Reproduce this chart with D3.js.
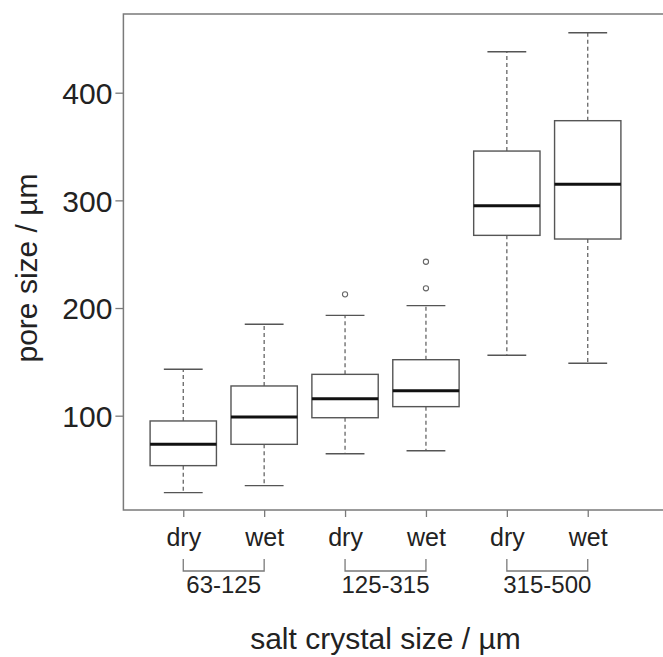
<!DOCTYPE html>
<html>
<head>
<meta charset="utf-8">
<script src="https://cdn.jsdelivr.net/npm/d3@7"></script>
<style>
  html, body { margin: 0; padding: 0; background: #fff; }
  svg { display: block; }
  text { font-family: "Liberation Sans", Arial, sans-serif; fill: #222; }
</style>
</head>
<body>
<svg id="chart" width="663" height="657"></svg>
<script>
// ---- data ----
const treatments = ["dry", "wet", "dry", "wet", "dry", "wet"];
const groups = ["63-125", "125-315", "315-500"];
const whiskerLow  = [28.5, 35.0, 64.7, 67.5, 156.1, 148.7];
const q1          = [53.6, 73.4, 98.1, 108.4, 267.5, 264.1];
const median      = [73.4, 98.8, 115.8, 123.2, 295.0, 314.9];
const q3          = [95.1, 127.6, 138.4, 152.0, 345.8, 374.0];
const whiskerHigh = [143.1, 184.9, 193.2, 202.2, 438.1, 455.7];
const outliers    = [[], [], [212.7], [218.3, 243.0], [], []];
const yTicks = [100, 200, 300, 400];
const yTitle = "pore size / µm";
const xTitle = "salt crystal size / µm";

// ---- layout ----
const svg = d3.select("#chart");
const plot = { left: 123.4, top: 14, bottom: 510 };

const x = d3.scaleLinear().domain([0.26, 6.74]).range([plot.left, 647.6]);
const y = d3.scaleLinear().domain([12.4, 473.1]).range([plot.bottom, plot.top]);

const boxHalf = 0.41;
const capHalf = 0.24;

// frame (right edge lies outside the picture)
svg.append("rect")
  .attr("x", plot.left).attr("y", plot.top)
  .attr("width", 700 - plot.left).attr("height", plot.bottom - plot.top)
  .attr("fill", "none").attr("stroke", "#7a7a7a").attr("stroke-width", 1.5);

// y axis
const yAxis = svg.append("g")
  .attr("transform", `translate(${plot.left},0)`)
  .call(d3.axisLeft(y).tickValues(yTicks).tickSize(8).tickSizeOuter(0).tickPadding(3));
yAxis.select(".domain").remove();
yAxis.selectAll(".tick line").attr("stroke", "#7a7a7a").attr("stroke-width", 1.3);
yAxis.selectAll(".tick text")
  .style("font-family", "'Liberation Sans', Arial, sans-serif")
  .style("font-size", "30px").attr("fill", "#222").attr("dy", "0.36em");

// x axis
const xAxis = svg.append("g")
  .attr("transform", `translate(0,${plot.bottom})`)
  .call(d3.axisBottom(x).tickValues(d3.range(1, 7)).tickSize(7).tickSizeOuter(0)
        .tickFormat((d, i) => treatments[i]));
xAxis.select(".domain").remove();
xAxis.selectAll(".tick line").attr("stroke", "#7a7a7a").attr("stroke-width", 1.3);
xAxis.selectAll(".tick text")
  .style("font-family", "'Liberation Sans', Arial, sans-serif")
  .style("font-size", "25px").attr("fill", "#222")
  .attr("y", 36).attr("dy", 0);

// brackets and group labels
const br = svg.append("g");
groups.forEach((g, gi) => {
  const a = x(gi * 2 + 1), b = x(gi * 2 + 2);
  br.append("path")
    .attr("d", `M${a},559V571H${b}V559`)
    .attr("fill", "none").attr("stroke", "#7a7a7a").attr("stroke-width", 1.3);
  br.append("text")
    .attr("x", (a + b) / 2).attr("y", 593)
    .attr("text-anchor", "middle")
    .style("font-size", "24px")
    .text(g);
});

// boxes
const boxes = svg.append("g");
treatments.forEach((t, i) => {
  const cx = x(i + 1);
  const g = boxes.append("g");
  // whiskers
  g.append("line").attr("x1", cx).attr("x2", cx)
    .attr("y1", y(q3[i])).attr("y2", y(whiskerHigh[i]))
    .attr("stroke", "#666").attr("stroke-width", 1.3).attr("stroke-dasharray", "4,3");
  g.append("line").attr("x1", cx).attr("x2", cx)
    .attr("y1", y(q1[i])).attr("y2", y(whiskerLow[i]))
    .attr("stroke", "#666").attr("stroke-width", 1.3).attr("stroke-dasharray", "4,3");
  // caps
  [whiskerHigh[i], whiskerLow[i]].forEach(v => {
    g.append("line")
      .attr("x1", x(i + 1 - capHalf)).attr("x2", x(i + 1 + capHalf))
      .attr("y1", y(v)).attr("y2", y(v))
      .attr("stroke", "#555").attr("stroke-width", 1.4);
  });
  // box
  g.append("rect")
    .attr("x", x(i + 1 - boxHalf)).attr("width", x(i + 1 + boxHalf) - x(i + 1 - boxHalf))
    .attr("y", y(q3[i])).attr("height", y(q1[i]) - y(q3[i]))
    .attr("fill", "#fff").attr("stroke", "#555").attr("stroke-width", 1.4);
  // median
  g.append("line")
    .attr("x1", x(i + 1 - boxHalf)).attr("x2", x(i + 1 + boxHalf))
    .attr("y1", y(median[i])).attr("y2", y(median[i]))
    .attr("stroke", "#111").attr("stroke-width", 3);
  // outliers
  outliers[i].forEach(v => {
    g.append("circle").attr("cx", cx).attr("cy", y(v)).attr("r", 2.6)
      .attr("fill", "none").attr("stroke", "#666").attr("stroke-width", 1.1);
  });
});

// axis titles
svg.append("text")
  .attr("x", (plot.left + 647.6) / 2).attr("y", 649)
  .attr("text-anchor", "middle")
  .style("font-size", "30px")
  .text(xTitle);

svg.append("text")
  .attr("transform", "translate(37,268) rotate(-90)")
  .attr("text-anchor", "middle")
  .style("font-size", "30px")
  .text(yTitle);
</script>
</body>
</html>
